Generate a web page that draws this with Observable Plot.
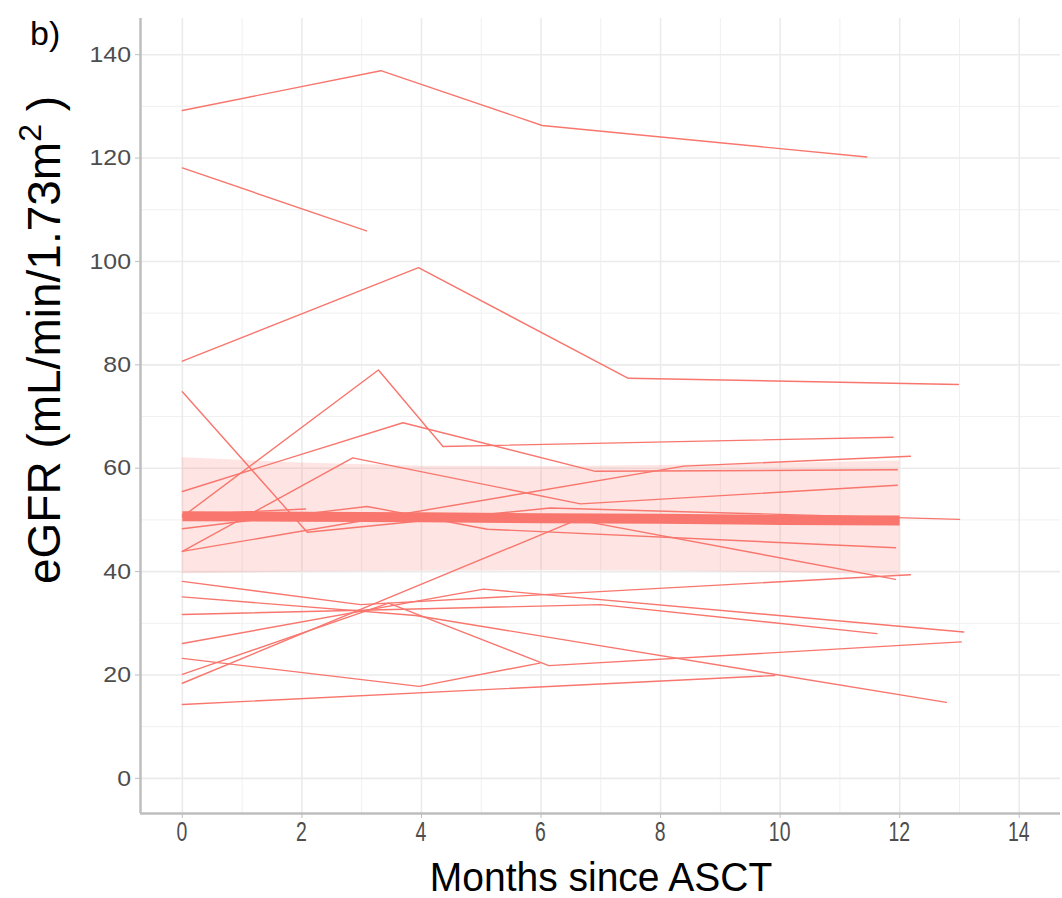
<!DOCTYPE html>
<html>
<head>
<meta charset="utf-8">
<script src="https://cdn.jsdelivr.net/npm/d3@7"></script>
<script src="https://cdn.jsdelivr.net/npm/@observablehq/plot@0.6"></script>
<style>
  html, body { margin: 0; padding: 0; background: #ffffff; }
  #chart { width: 1062px; height: 898px; }
</style>
</head>
<body>
<div id="chart"></div>
<script>
// ---- data (months since ASCT, eGFR) per patient ----
const pA = [[0,129.2],[3.32,136.9],[6.02,126.3],[11.45,120.2]];
const pB = [[0,118.1],[3.08,105.9]];
const pC = [[0,80.7],[3.95,98.8],[7.46,77.4],[12.98,76.2]];
const pD = [[0,74.8],[2.09,47.6],[6.15,52.3],[13.0,50.1]];
const pE = [[0,50.6],[3.28,79.0],[4.36,64.2],[11.89,66.0]];
const pF = [[0,55.5],[3.69,68.8],[6.91,59.4],[11.96,59.7]];
const pG = [[0,43.9],[2.85,62.0],[6.66,53.1],[11.96,56.7]];
const pH = [[0,51.0],[2.06,52.1]];
const pI = [[0,48.3],[3.09,52.6],[5.1,48.2],[11.93,44.6]];
const pJ = [[0,43.9],[8.39,60.4],[12.18,62.3]];
const pK = [[0,38.1],[2.98,33.6],[12.18,39.4]];
const pL = [[0,35.1],[3.9,31.5],[12.78,14.7]];
const pM = [[0,31.7],[7.0,33.6],[11.62,28.0]];
const pN = [[0,26.1],[5.04,36.6],[13.07,28.3]];
const pO = [[0,23.2],[3.96,17.8],[5.98,22.3]];
const pP = [[0,20.1],[3.45,33.9],[6.13,21.8],[13.03,26.4]];
const pQ = [[0,18.4],[6.6,50.0],[11.93,38.5]];
const pR = [[0,14.3],[9.91,19.9]];
const patients = {A:pA,B:pB,C:pC,D:pD,E:pE,F:pF,G:pG,H:pH,I:pI,J:pJ,K:pK,L:pL,M:pM,N:pN,O:pO,P:pP,Q:pQ,R:pR};

// fitted mean and confidence ribbon
const fitMonths = [0, 2, 4, 6, 8, 10, 12];
const fitMean   = [50.7, 50.6, 50.5, 50.3, 50.2, 50.0, 49.9];
const fitLower  = [39.6, 39.9, 40.1, 40.2, 40.1, 39.8, 39.3];
const fitUpper  = [62.0, 61.0, 60.4, 60.3, 60.5, 60.9, 61.4];

const xTicks = [0, 2, 4, 6, 8, 10, 12, 14];
const xMinor = [1, 3, 5, 7, 9, 11, 13];
const yTicks = [0, 20, 40, 60, 80, 100, 120, 140];
const yMinor = [10, 30, 50, 70, 90, 110, 130];

// ---- build tables ----
const lineRows = Object.entries(patients).flatMap(([id, pts]) => pts.map(([m, v]) => ({id, month: m, egfr: v})));
const fitRows = fitMonths.map((m, i) => ({month: m, mean: fitMean[i], lo: fitLower[i], hi: fitUpper[i]}));

const red = "#F8766D";
const xDom = [-0.7, 14.69];
const yDom = [-6.8, 147];
const FONT = "'Liberation Sans', Arial, sans-serif";

const chart = Plot.plot({
  width: 1062,
  height: 898,
  marginLeft: 140,
  marginRight: 2,
  marginTop: 18,
  marginBottom: 85,
  style: {fontFamily: FONT, background: "#ffffff"},
  x: {domain: xDom, label: null},
  y: {domain: yDom, label: null},
  marks: [
    Plot.ruleX(xMinor, {stroke: "#F0F0F0", strokeWidth: 1}),
    Plot.ruleY(yMinor, {stroke: "#F0F0F0", strokeWidth: 1}),
    Plot.ruleX(xTicks, {stroke: "#EBEBEB", strokeWidth: 1.6}),
    Plot.ruleY(yTicks, {stroke: "#EBEBEB", strokeWidth: 1.6}),
    Plot.areaY(fitRows, {x: "month", y1: "lo", y2: "hi", fill: red, fillOpacity: 0.2}),
    Plot.line(lineRows, {x: "month", y: "egfr", z: "id", stroke: red, strokeWidth: 1.4}),
    Plot.line(fitRows, {x: "month", y: "mean", stroke: red, strokeWidth: 10, strokeLinecap: "butt"}),
    Plot.ruleX([xDom[0]], {stroke: "#BEBEBE", strokeWidth: 2.5}),
    Plot.ruleY([yDom[0]], {stroke: "#BEBEBE", strokeWidth: 2.5}),
    Plot.axisX({ticks: xTicks, tickSize: 5, tickPadding: 6, stroke: "#BEBEBE", fill: "#4D4D4D", label: null}),
    Plot.axisY({ticks: yTicks, tickSize: 5, tickPadding: 4, stroke: "#BEBEBE", fill: "#4D4D4D", label: null})
  ]
});

document.getElementById("chart").appendChild(chart);

const svg = d3.select(chart);
const sx = chart.scale("x");
const sy = chart.scale("y");

// tick labels: restyle Plot's axis labels (x condensed, y slightly wide as in reference)
svg.selectAll("g[aria-label='x-axis tick label']").attr("transform", null).attr("font-size", null);
svg.selectAll("g[aria-label='x-axis tick label'] text").each(function() {
  const t = d3.select(this);
  const v = +this.textContent.replace("\u2212", "-");
  const px = sx.apply(v);
  t.attr("x", null).attr("y", null).attr("dy", "0.71em")
   .attr("text-anchor", "middle")
   .attr("font-size", 27)
   .style("font-size", "27px")
   .attr("transform", `translate(${px},${822}) scale(0.72,1)`);
});
svg.selectAll("g[aria-label='y-axis tick label']").attr("transform", null).attr("font-size", null);
svg.selectAll("g[aria-label='y-axis tick label'] text").each(function() {
  const t = d3.select(this);
  const v = +this.textContent.replace("\u2212", "-");
  const py = sy.apply(v);
  t.attr("x", null).attr("y", null).attr("dy", "0.35em")
   .attr("text-anchor", "end")
   .attr("font-size", 22)
   .style("font-size", "22px")
   .attr("transform", `translate(${131},${py}) scale(1.13,1)`);
});

// axis titles and panel tag
svg.append("text")
  .attr("x", 601).attr("y", 891)
  .attr("text-anchor", "middle")
  .attr("font-family", FONT)
  .attr("font-size", 40)
  .attr("fill", "#000")
  .attr("transform", "translate(601,0) scale(0.975,1) translate(-601,0)")
  .text("Months since ASCT");

const yt = svg.append("text")
  .attr("transform", "translate(60,340) rotate(-90)")
  .attr("text-anchor", "middle")
  .attr("font-family", FONT)
  .attr("font-size", 46)
  .attr("fill", "#000");
yt.append("tspan").text("eGFR (mL/min/1.73m");
yt.append("tspan").attr("dy", -19).attr("font-size", 32).text("2");
yt.append("tspan").attr("dy", 19).text(" )");

svg.append("text")
  .attr("x", 30).attr("y", 45)
  .attr("text-anchor", "start")
  .attr("font-family", FONT)
  .attr("font-size", 34)
  .attr("fill", "#000")
  .text("b)");
</script>
</body>
</html>
